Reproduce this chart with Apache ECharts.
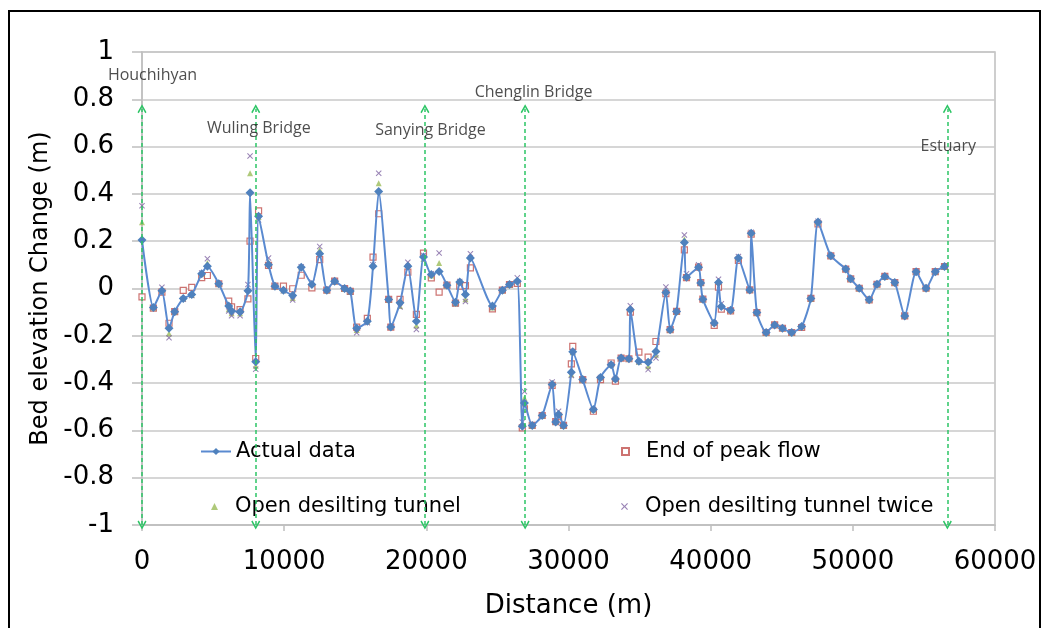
<!DOCTYPE html>
<html>
<head>
<meta charset="utf-8">
<title>Bed elevation change</title>
<script src="https://cdn.jsdelivr.net/npm/echarts@6.0.0/dist/echarts.min.js"></script>
<style>
  html, body { margin: 0; padding: 0; background: #fff; }
  #chart { width: 1041px; height: 628px; }
</style>
</head>
<body>
<div id="chart"></div>
<script>
// distance along the river (m)
var distance = [0, 800, 1400, 1900, 2300, 2900, 3500, 4200, 4600, 5400,
  6100, 6300, 6900, 7450, 7600, 8000, 8200, 8900, 9350, 9950,
  10600, 11200, 11950, 12500, 13000, 13550, 14250, 14650, 15100, 15850,
  16250, 16650, 17350, 17500, 18150, 18700, 19300, 19800, 20350, 20900,
  21450, 22050, 22350, 22750, 23100, 24650, 25350, 25850, 26400, 26750,
  26900, 27450, 28150, 28850, 29100, 29300, 29650, 30200, 30300, 31000,
  31750, 32250, 33000, 33300, 33700, 34250, 34350, 34950, 35600, 36150,
  36850, 37150, 37600, 38150, 38300, 39150, 39300, 39450, 40250, 40550,
  40750, 41400, 41950, 42750, 42850, 43250, 43900, 44500, 45050, 45700,
  46400, 47050, 47550, 48450, 49500, 49850, 50450, 51150, 51700, 52250,
  52950, 53650, 54450, 55150, 55800, 56450];

// bed elevation change (m)
var actualData = [0.205, -0.08, -0.01, -0.168, -0.098, -0.042, -0.025, 0.062, 0.094, 0.02,
  -0.074, -0.095, -0.098, -0.01, 0.405, -0.31, 0.305, 0.1, 0.01, -0.007,
  -0.03, 0.09, 0.017, 0.147, -0.007, 0.031, 0.0, -0.011, -0.168, -0.138,
  0.094, 0.41, -0.046, -0.163, -0.06, 0.094, -0.138, 0.133, 0.059, 0.072,
  0.014, -0.058, 0.028, -0.025, 0.129, -0.074, -0.007, 0.017, 0.031, -0.582,
  -0.484, -0.579, -0.537, -0.406, -0.565, -0.533, -0.579, -0.354, -0.267, -0.385,
  -0.512, -0.376, -0.322, -0.383, -0.294, -0.297, -0.09, -0.308, -0.312, -0.266,
  -0.017, -0.174, -0.097, 0.194, 0.048, 0.09, 0.023, -0.045, -0.146, 0.025,
  -0.076, -0.092, 0.129, -0.006, 0.234, -0.102, -0.186, -0.154, -0.168, -0.186,
  -0.161, -0.042, 0.281, 0.138, 0.082, 0.041, 0.001, -0.048, 0.018, 0.051,
  0.025, -0.116, 0.071, 0.001, 0.071, 0.093];

var peakFlowEnd = [-0.035, -0.083, -0.015, -0.147, -0.098, -0.008, 0.005, 0.046, 0.055, 0.02,
  -0.053, -0.078, -0.089, -0.044, 0.2, -0.296, 0.328, 0.098, 0.01, 0.01,
  -0.001, 0.056, 0.003, 0.122, -0.007, 0.031, 0.0, -0.012, -0.163, -0.126,
  0.133, 0.316, -0.046, -0.163, -0.046, 0.069, -0.109, 0.15, 0.045, -0.015,
  0.014, -0.062, 0.01, 0.012, 0.087, -0.086, -0.007, 0.017, 0.022, -0.589,
  -0.509, -0.579, -0.537, -0.41, -0.563, -0.54, -0.579, -0.319, -0.245, -0.385,
  -0.519, -0.385, -0.315, -0.392, -0.294, -0.297, -0.1, -0.269, -0.29, -0.224,
  -0.022, -0.174, -0.097, 0.163, 0.046, 0.09, 0.025, -0.045, -0.156, 0.006,
  -0.087, -0.095, 0.119, -0.006, 0.23, -0.102, -0.186, -0.154, -0.168, -0.186,
  -0.165, -0.042, 0.273, 0.138, 0.082, 0.041, 0.001, -0.048, 0.018, 0.051,
  0.025, -0.116, 0.071, 0.001, 0.071, 0.093];

var tunnelOnce = [0.28, -0.08, -0.004, -0.19, -0.098, -0.042, -0.027, 0.062, 0.108, 0.02,
  -0.088, -0.105, -0.105, -0.004, 0.487, -0.327, 0.302, 0.112, 0.01, -0.007,
  -0.04, 0.09, 0.02, 0.164, -0.007, 0.031, 0.0, -0.013, -0.175, -0.14,
  0.1, 0.445, -0.046, -0.163, -0.074, 0.1, -0.156, 0.125, 0.055, 0.108,
  0.014, -0.062, 0.028, -0.045, 0.135, -0.08, -0.007, 0.017, 0.035, -0.575,
  -0.463, -0.579, -0.537, -0.4, -0.565, -0.525, -0.579, -0.364, -0.27, -0.385,
  -0.512, -0.376, -0.322, -0.383, -0.294, -0.297, -0.085, -0.31, -0.329, -0.28,
  -0.01, -0.174, -0.097, 0.208, 0.05, 0.095, 0.023, -0.045, -0.146, 0.03,
  -0.072, -0.092, 0.13, -0.006, 0.236, -0.102, -0.186, -0.154, -0.168, -0.186,
  -0.161, -0.042, 0.281, 0.138, 0.082, 0.041, 0.001, -0.048, 0.018, 0.051,
  0.025, -0.116, 0.071, 0.001, 0.071, 0.093];

var tunnelTwice = [0.35, -0.08, 0.005, -0.208, -0.098, -0.045, -0.03, 0.066, 0.126, 0.02,
  -0.095, -0.115, -0.115, 0.017, 0.56, -0.341, 0.29, 0.129, 0.01, -0.01,
  -0.049, 0.092, 0.027, 0.178, -0.007, 0.031, 0.0, -0.015, -0.187, -0.145,
  0.1, 0.487, -0.046, -0.163, -0.078, 0.111, -0.173, 0.14, 0.062, 0.15,
  0.014, -0.065, 0.03, -0.055, 0.147, -0.08, -0.007, 0.017, 0.045, -0.565,
  -0.436, -0.579, -0.537, -0.395, -0.565, -0.519, -0.579, -0.368, -0.267, -0.385,
  -0.512, -0.376, -0.322, -0.383, -0.294, -0.297, -0.073, -0.31, -0.343, -0.294,
  0.006, -0.174, -0.097, 0.226, 0.062, 0.1, 0.023, -0.045, -0.146, 0.039,
  -0.065, -0.092, 0.135, -0.006, 0.238, -0.102, -0.186, -0.154, -0.168, -0.186,
  -0.161, -0.042, 0.284, 0.138, 0.082, 0.041, 0.001, -0.048, 0.018, 0.051,
  0.025, -0.116, 0.071, 0.001, 0.071, 0.093];

// reference sections along the river
var siteNames = ['Houchihyan', 'Wuling Bridge', 'Sanying Bridge', 'Chenglin Bridge', 'Estuary'];
var siteDist = [0, 8000, 19900, 26950, 56650];
var siteLabelDist = [740, 8215, 20290, 27540, 56710];
var siteLabelElev = [0.902, 0.677, 0.669, 0.829, 0.599];
var siteLineRange = [-1, 0.76];

function pairs(ys) {
  return distance.map(function (d, i) { return [d, ys[i]]; });
}

// open chevron, tip up
var chevron = 'path://M5,0 L10,9 L8.6,10 L5,3.2 L1.4,10 L0,9 Z';
var xMark = 'path://M0,1.2 L1.2,0 L5,3.8 L8.8,0 L10,1.2 L6.2,5 L10,8.8 L8.8,10 L5,6.2 L1.2,10 L0,8.8 L3.8,5 Z';

var legendFont = { fontFamily: 'DejaVu Sans', fontSize: 21, color: '#000' };
var legendPadded = { fontFamily: 'DejaVu Sans', fontSize: 21, color: '#000', padding: [0, 0, 0, 12] };

var chart = echarts.init(document.getElementById('chart'));
chart.setOption({
  animation: false,
  textStyle: { fontFamily: 'DejaVu Sans' },
  graphic: [{
    type: 'rect',
    shape: { x: 9, y: 11, width: 1031, height: 640 },
    style: { fill: 'none', stroke: '#000', lineWidth: 2 },
    z: -10
  }],
  grid: {
    left: 142, right: 46, top: 52, bottom: 103,
    show: true, borderColor: '#bfbfbf', borderWidth: 1.5
  },
  legend: [
    { left: 195, top: 436, itemWidth: 30, itemHeight: 9, textStyle: legendFont, data: ['Actual data'] },
    { left: 206, top: 491, itemWidth: 7, itemHeight: 7, textStyle: legendPadded, data: ['Open desilting tunnel'] },
    { left: 616, top: 436, itemWidth: 7, itemHeight: 7, textStyle: legendPadded, data: ['End of peak flow'] },
    { left: 616, top: 491, itemWidth: 7, itemHeight: 7, textStyle: legendPadded, data: ['Open desilting tunnel twice'] }
  ],
  xAxis: {
    type: 'value', min: 0, max: 60000, interval: 10000,
    name: 'Distance (m)', nameLocation: 'middle', nameGap: 68,
    nameTextStyle: { fontSize: 26, color: '#000', fontFamily: 'DejaVu Sans' },
    axisLine: { show: true, onZero: false, lineStyle: { color: '#bfbfbf', width: 1.5 } },
    axisTick: { show: true, length: 6, lineStyle: { color: '#bfbfbf', width: 1.5 } },
    axisLabel: { fontSize: 26, color: '#000', margin: 24, formatter: function (v) { return String(v); } },
    splitLine: { show: false }
  },
  yAxis: {
    type: 'value', min: -1, max: 1, interval: 0.2,
    name: 'Bed elevation Change (m)', nameLocation: 'middle', nameGap: 89,
    nameTextStyle: { fontSize: 24, color: '#000', fontFamily: 'DejaVu Sans' },
    axisLine: { show: true, lineStyle: { color: '#bfbfbf', width: 1.5 } },
    axisTick: { show: true, length: 10, lineStyle: { color: '#bfbfbf', width: 1.5 } },
    axisLabel: { fontSize: 26, color: '#000', margin: 28 },
    splitLine: { show: true, lineStyle: { color: '#c8c8c8', width: 1.5 } }
  },
  series: [{
    name: 'Actual data',
    type: 'line',
    smooth: 0.2,
    data: pairs(actualData),
    symbol: 'diamond',
    symbolSize: 9,
    lineStyle: { color: '#5a8ad0', width: 2 },
    itemStyle: { color: '#4f81bd' },
    markLine: {
      silent: true,
      symbol: [chevron, chevron],
      symbolSize: 9,
      label: { show: false },
      lineStyle: { color: '#2cc565', width: 1.5, type: [4, 3] },
      data: siteDist.map(function (d) {
        return [{ coord: [d, siteLineRange[0]] }, { coord: [d, siteLineRange[1]] }];
      })
    }
  }, {
    name: 'End of peak flow',
    type: 'scatter',
    data: pairs(peakFlowEnd),
    symbol: 'rect',
    symbolSize: 6,
    itemStyle: { color: '#fff', borderColor: '#c0504d', borderWidth: 1.2 }
  }, {
    name: 'Open desilting tunnel',
    type: 'scatter',
    data: pairs(tunnelOnce),
    symbol: 'triangle',
    symbolSize: 6,
    itemStyle: { color: '#9bbb59' }
  }, {
    name: 'Open desilting tunnel twice',
    type: 'scatter',
    data: pairs(tunnelTwice),
    symbol: xMark,
    symbolSize: 6,
    itemStyle: { color: '#8064a2' }
  }, {
    name: 'sites',
    type: 'scatter',
    silent: true,
    symbolSize: 0,
    data: siteNames.map(function (n, i) {
      return { name: n, value: [siteLabelDist[i], siteLabelElev[i]] };
    }),
    label: {
      show: true, position: 'inside', formatter: '{b}',
      fontFamily: 'Open Sans', fontSize: 16, color: '#222'
    },
    z: 5
  }]
});
</script>
</body>
</html>
